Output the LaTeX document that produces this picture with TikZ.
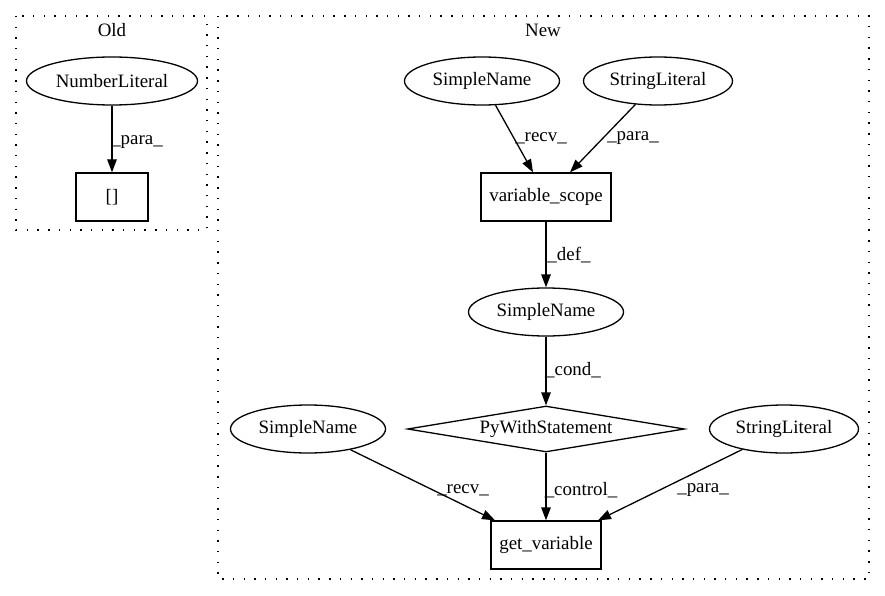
\documentclass[tikz,border=0pt]{standalone}
\usepackage{fontspec}
\setmainfont{Liberation Serif}
\usetikzlibrary{shapes.geometric,arrows.meta}
\begin{document}
\begin{tikzpicture}[x=1pt,y=-1pt,
  every node/.style={font=\fontsize{18.9}{22}\selectfont, inner sep=0pt},
  ell/.style={draw, ellipse, line width=1.3pt, minimum height=48pt},
  rectnode/.style={draw, rectangle, line width=1.3pt, minimum height=48pt},
  dia/.style={draw, diamond, aspect=6, line width=1.3pt, minimum width=277pt, minimum height=46pt},
  cluster/.style={draw, line width=1.3pt, dash pattern=on 1.4pt off 9.3pt},
  edge/.style={line width=1.3pt, -{Triangle[length=13pt,width=9.5pt]}}]
\useasboundingbox (0,0) rectangle (885,596);
% clusters
\draw[cluster] (16,16) rectangle (207,230);
\draw[cluster] (218,16) rectangle (869,579);
\node (old) at (112,30) {Old};
\node (new) at (543,30) {New};
% nodes
\node[ell, minimum width=171pt] (nl) at (112,81) {NumberLiteral};
\node[rectnode, minimum width=72pt] (br) at (112,197) {[]};
\node[ell, minimum width=155pt] (sn1) at (482,81) {SimpleName};
\node[ell, minimum width=149pt] (sl1) at (658,81) {StringLiteral};
\node[rectnode, minimum width=130pt] (vs) at (546,197) {variable\_scope};
\node[ell, minimum width=155pt] (sn2) at (546,312) {SimpleName};
\node[dia] (pw) at (546,429) {PyWithStatement};
\node[ell, minimum width=155pt] (sn3) at (308,429) {SimpleName};
\node[ell, minimum width=149pt] (sl2) at (784,429) {StringLiteral};
\node[rectnode, minimum width=110pt] (gv) at (546,545) {get\_variable};
% edges
\draw[edge] (nl) -- (br);
\draw[edge] (sn1) -- ([xshift=-13pt]vs.north);
\draw[edge] (sl1) -- ([xshift=24pt]vs.north);
\draw[edge] (vs) -- (sn2);
\draw[edge] (sn2) -- (pw);
\draw[edge] (pw) -- (gv);
\draw[edge] (sn3) -- ([xshift=-51pt]gv.north);
\draw[edge] (sl2) -- ([xshift=52pt]gv.north);
% edge labels
\node (l1) at (137,142) {\_para\_};
\node (l2) at (541,138) {\_recv\_};
\node (l3) at (633,138) {\_para\_};
\node (l4) at (569,255) {\_def\_};
\node (l5) at (573,370) {\_cond\_};
\node (l6) at (463,490) {\_recv\_};
\node (l7) at (581,490) {\_control\_};
\node (l8) at (703,490) {\_para\_};
\end{tikzpicture}
\end{document}
